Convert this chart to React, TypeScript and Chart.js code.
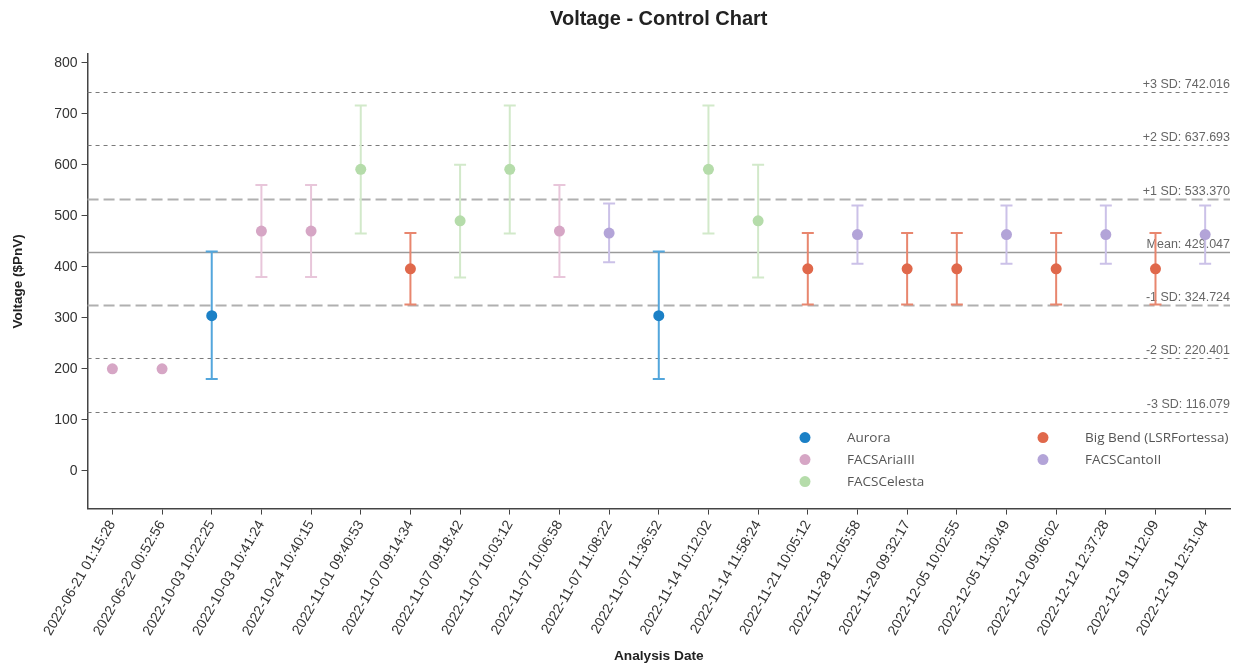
import React, { useEffect, useRef } from 'react';
import { Chart, registerables } from 'chart.js';

Chart.register(...registerables);

const dates = [
  '2022-06-21 01:15:28',
  '2022-06-22 00:52:56',
  '2022-10-03 10:22:25',
  '2022-10-03 10:41:24',
  '2022-10-24 10:40:15',
  '2022-11-01 09:40:53',
  '2022-11-07 09:14:34',
  '2022-11-07 09:18:42',
  '2022-11-07 10:03:12',
  '2022-11-07 10:06:58',
  '2022-11-07 11:08:22',
  '2022-11-07 11:36:52',
  '2022-11-14 10:12:02',
  '2022-11-14 11:58:24',
  '2022-11-21 10:05:12',
  '2022-11-28 12:05:58',
  '2022-11-29 09:32:17',
  '2022-12-05 10:02:55',
  '2022-12-05 11:30:49',
  '2022-12-12 09:06:02',
  '2022-12-12 12:37:28',
  '2022-12-19 11:12:09',
  '2022-12-19 12:51:04',
];

const instruments = [
  'FACSAriaIII', 'FACSAriaIII', 'Aurora', 'FACSAriaIII', 'FACSAriaIII', 'FACSCelesta',
  'Big Bend (LSRFortessa)', 'FACSCelesta', 'FACSCelesta', 'FACSAriaIII', 'FACSCantoII',
  'Aurora', 'FACSCelesta', 'FACSCelesta', 'Big Bend (LSRFortessa)', 'FACSCantoII',
  'Big Bend (LSRFortessa)', 'Big Bend (LSRFortessa)', 'FACSCantoII', 'Big Bend (LSRFortessa)',
  'FACSCantoII', 'Big Bend (LSRFortessa)', 'FACSCantoII',
];

const values = [
  200, 200, 304, 470, 470, 591, 396, 490, 591, 470, 466,
  304, 591, 490, 396, 463, 396, 396, 463, 396, 463, 396, 463,
];

const lowerBounds: (number | null)[] = [
  null, null, 180, 380, 380, 465, 326, 379, 465, 380, 409,
  180, 465, 379, 326, 406, 326, 326, 406, 326, 406, 326, 406,
];

const upperBounds: (number | null)[] = [
  null, null, 430, 560, 560, 716, 466, 600, 716, 560, 524,
  430, 716, 600, 466, 520, 466, 466, 520, 466, 520, 466, 520,
];

const seriesNames = ['Aurora', 'FACSAriaIII', 'FACSCelesta', 'Big Bend (LSRFortessa)', 'FACSCantoII'];
const seriesColors = ['#1b80c6', '#d6a6c5', '#b5dcaa', '#e0684b', '#b3a4d8'];
const errorColors = ['#53a6dc', '#e8c6da', '#d2e9ca', '#e8866e', '#cbc1e8'];

const controlLabels = ['+3 SD', '+2 SD', '+1 SD', 'Mean', '-1 SD', '-2 SD', '-3 SD'];
const controlValues = [742.016, 637.693, 533.37, 429.047, 324.724, 220.401, 116.079];

const yTickValues = [0, 100, 200, 300, 400, 500, 600, 700, 800];

const FONT = '"Liberation Sans", Arial, sans-serif';

const errorBarPlugin = {
  id: 'errorBars',
  beforeDatasetsDraw(chart: any) {
    const { ctx, scales } = chart;
    const xs = scales.x;
    const ys = scales.y;
    ctx.save();
    ctx.lineWidth = 2;
    for (let i = 0; i < dates.length; i++) {
      const lo = lowerBounds[i];
      const hi = upperBounds[i];
      if (lo == null || hi == null) continue;
      const si = seriesNames.indexOf(instruments[i]);
      const x = xs.getPixelForValue(i);
      const y1 = ys.getPixelForValue(hi);
      const y2 = ys.getPixelForValue(lo);
      ctx.strokeStyle = errorColors[si];
      ctx.beginPath();
      ctx.moveTo(x, y1);
      ctx.lineTo(x, y2);
      ctx.moveTo(x - 6, y1);
      ctx.lineTo(x + 6, y1);
      ctx.moveTo(x - 6, y2);
      ctx.lineTo(x + 6, y2);
      ctx.stroke();
    }
    ctx.restore();
  },
};

const controlLinesPlugin = {
  id: 'controlLines',
  beforeDatasetsDraw(chart: any) {
    const { ctx, chartArea, scales } = chart;
    const ys = scales.y;
    ctx.save();
    controlValues.forEach((v, i) => {
      const y = Math.round(ys.getPixelForValue(v)) + 0.5;
      const lab = controlLabels[i];
      if (lab === 'Mean') {
        ctx.setLineDash([]);
        ctx.strokeStyle = '#9a9a9a';
        ctx.lineWidth = 1.5;
      } else if (lab.startsWith('+1') || lab.startsWith('-1')) {
        ctx.setLineDash([11, 5]);
        ctx.strokeStyle = '#b0b0b0';
        ctx.lineWidth = 2;
      } else {
        ctx.setLineDash([4, 4]);
        ctx.strokeStyle = '#7a7a7a';
        ctx.lineWidth = 1;
      }
      ctx.beginPath();
      ctx.moveTo(chartArea.left, y);
      ctx.lineTo(chartArea.right, y);
      ctx.stroke();
      ctx.setLineDash([]);
      ctx.fillStyle = '#666';
      ctx.font = `12.5px ${FONT}`;
      ctx.textAlign = 'right';
      ctx.textBaseline = 'alphabetic';
      ctx.fillText(`${lab}: ${v.toFixed(3)}`, chartArea.right, y - 5);
    });
    ctx.restore();
  },
};

const legendPlugin = {
  id: 'customLegend',
  afterDraw(chart: any) {
    const { ctx, chartArea } = chart;
    ctx.save();
    ctx.font = '13.5px "Open Sans", sans-serif';
    ctx.textAlign = 'left';
    ctx.textBaseline = 'middle';
    const colX = [chartArea.right - 425, chartArea.right - 187];
    const rowY = [chartArea.bottom - 71, chartArea.bottom - 49, chartArea.bottom - 27];
    seriesNames.forEach((name, i) => {
      const col = i < 3 ? 0 : 1;
      const row = i < 3 ? i : i - 3;
      const cx = colX[col];
      const cy = rowY[row];
      ctx.fillStyle = seriesColors[i];
      ctx.beginPath();
      ctx.arc(cx, cy, 5.5, 0, Math.PI * 2);
      ctx.fill();
      ctx.fillStyle = '#555';
      ctx.fillText(name, cx + 42, cy + 1);
    });
    ctx.restore();
  },
};

export default function App() {
  const canvasRef = useRef<HTMLCanvasElement | null>(null);

  useEffect(() => {
    document.body.style.margin = '0';
    const canvas = canvasRef.current;
    if (!canvas) return;

    const datasets = seriesNames.map((name, si) => ({
      label: name,
      data: values.map((v, i) => (instruments[i] === name ? v : null)),
      showLine: false,
      pointRadius: 5.5,
      pointHoverRadius: 5.5,
      pointBackgroundColor: seriesColors[si],
      pointBorderWidth: 0,
      borderColor: seriesColors[si],
      backgroundColor: seriesColors[si],
      spanGaps: false,
    }));

    const chart = new Chart(canvas, {
      type: 'line',
      data: { labels: dates, datasets },
      plugins: [controlLinesPlugin, errorBarPlugin, legendPlugin],
      options: {
        animation: false,
        responsive: true,
        maintainAspectRatio: false,
        layout: { padding: { left: 0, right: 11, top: 0, bottom: 0 } },
        plugins: {
          legend: { display: false },
          tooltip: { enabled: false },
          title: {
            display: true,
            text: 'Voltage - Control Chart',
            fullSize: false,
            color: '#222',
            font: { family: FONT, size: 20, weight: 'bold' },
            padding: { top: 7, bottom: 23 },
          },
        },
        scales: {
          x: {
            type: 'category',
            offset: true,
            grid: {
              display: true,
              drawOnChartArea: false,
              drawTicks: true,
              tickLength: 6,
              offset: false,
              color: '#444',
            },
            border: { display: true, color: '#444', width: 1.5 },
            ticks: {
              autoSkip: false,
              minRotation: 60,
              maxRotation: 60,
              color: '#333',
              padding: 3,
              font: { family: FONT, size: 14 },
            },
            title: {
              display: true,
              text: 'Analysis Date',
              color: '#222',
              font: { family: FONT, size: 13.7, weight: 'bold' },
              padding: { top: 6, bottom: 0 },
            },
          },
          y: {
            type: 'linear',
            min: -74,
            max: 817,
            afterBuildTicks: (scale: any) => {
              scale.ticks = yTickValues.map((v) => ({ value: v }));
            },
            grid: {
              display: true,
              drawOnChartArea: false,
              drawTicks: true,
              tickLength: 6,
              color: '#444',
            },
            border: { display: true, color: '#444', width: 1.5 },
            ticks: {
              color: '#333',
              padding: 4,
              font: { family: FONT, size: 14 },
            },
            title: {
              display: true,
              text: 'Voltage ($PnV)',
              color: '#222',
              font: { family: FONT, size: 13.5, weight: 'bold' },
              padding: { top: 10, bottom: 24 },
            },
          },
        },
      },
    });

    return () => chart.destroy();
  }, []);

  return (
    <div style={{ position: 'relative', width: '1241px', height: '664px' }}>
      <canvas ref={canvasRef} />
    </div>
  );
}
